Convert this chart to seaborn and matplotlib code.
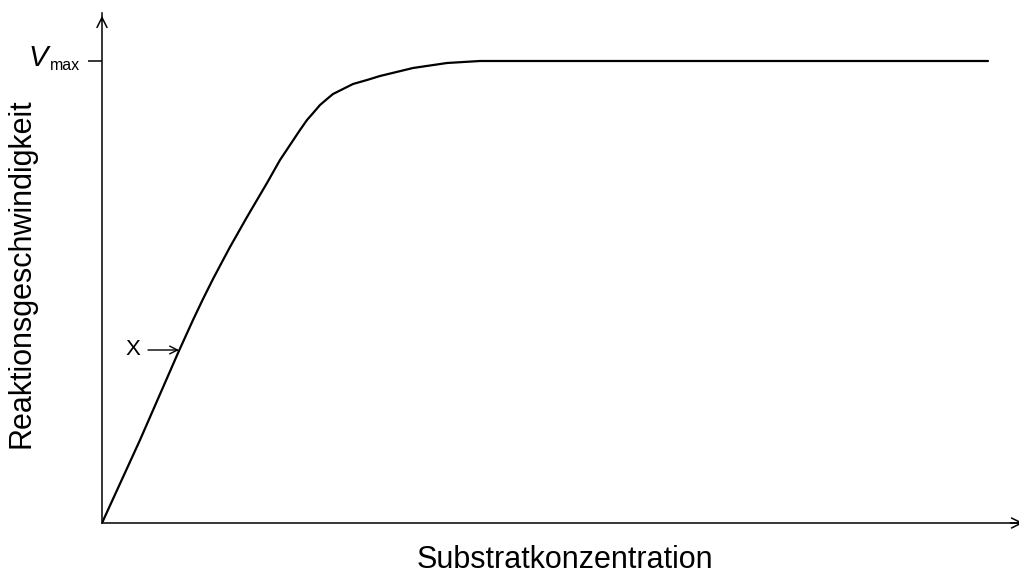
import matplotlib
matplotlib.use("Agg")
import matplotlib.pyplot as plt
import matplotlib.transforms as mtransforms
import seaborn as sns
import pandas as pd

# substrate concentration vs reaction rate (arbitrary units)
substrate = [0, 38, 76, 91, 101, 111, 120, 128, 145, 165, 178, 190, 198, 205, 212, 218,
             225, 231, 241, 251, 265, 278, 311, 345, 378, 398, 500, 700, 886]
rate = [0, 83, 170, 203, 224, 244, 261, 276, 306, 340, 363, 381, 393, 403, 411, 418,
        424, 429, 434, 439, 443, 447, 455, 460, 462, 462, 462, 462, 462]
v_max = 462
marker_x = 77
marker_y = 173

df = pd.DataFrame({"substrate": substrate, "rate": rate})

sns.set_style("white")
plt.rcParams["font.family"] = ["Liberation Sans", "DejaVu Sans"]
plt.rcParams["text.color"] = "black"
plt.rcParams["axes.labelcolor"] = "black"
plt.rcParams["ytick.color"] = "black"

fig = plt.figure(figsize=(10.19, 5.75), dpi=100)
ax = fig.add_axes([102 / 1019, 52 / 575, 924 / 1019, 510 / 575])

sns.lineplot(data=df, x="substrate", y="rate", color="black", linewidth=1.6, ax=ax)

ax.set_xlim(0, 924)
ax.set_ylim(0, 510)

# only left and bottom axes, with arrow heads
for s in ["top", "right"]:
    ax.spines[s].set_visible(False)
for s in ["left", "bottom"]:
    ax.spines[s].set_linewidth(1.1)
    ax.spines[s].set_color("black")
ax.annotate("", xy=(0, 1.0), xytext=(0, 0.98), xycoords="axes fraction",
            arrowprops=dict(arrowstyle="->", color="black", lw=1.1, mutation_scale=18),
            annotation_clip=False)
ax.annotate("", xy=(1.0, 0), xytext=(0.98, 0), xycoords="axes fraction",
            arrowprops=dict(arrowstyle="->", color="black", lw=1.1, mutation_scale=18),
            annotation_clip=False)

# Vmax tick, label drawn by hand (big italic V, small "max")
ax.set_xticks([])
ax.set_yticks([v_max])
ax.set_yticklabels([""])
ax.tick_params(axis="y", direction="out", length=10, width=1.1, left=True)
trans = mtransforms.blended_transform_factory(ax.transAxes, ax.transData)
ax.text(-0.0584, v_max - 5, "V", transform=trans, fontsize=21, style="italic",
        ha="right", va="baseline")
ax.text(-0.0563, v_max - 8.5, "max", transform=trans, fontsize=11.5,
        ha="left", va="baseline")

ax.set_xlabel("Substratkonzentration", fontsize=22)
ax.xaxis.set_label_coords(0.501, -22 / 510)
ax.set_ylabel("Reaktionsgeschwindigkeit", fontsize=22, va="center")
ax.yaxis.set_label_coords(-80 / 924, 0.49)

# marker X with arrow
ax.text(38, marker_y - 5, "X", fontsize=16, ha="right", va="baseline")
ax.annotate("", xy=(marker_x, marker_y), xytext=(46, marker_y),
            arrowprops=dict(arrowstyle="->", color="black", lw=1.0, mutation_scale=14,
                            shrinkA=0, shrinkB=0))

plt.savefig("out.png", dpi=100)
plt.close()
